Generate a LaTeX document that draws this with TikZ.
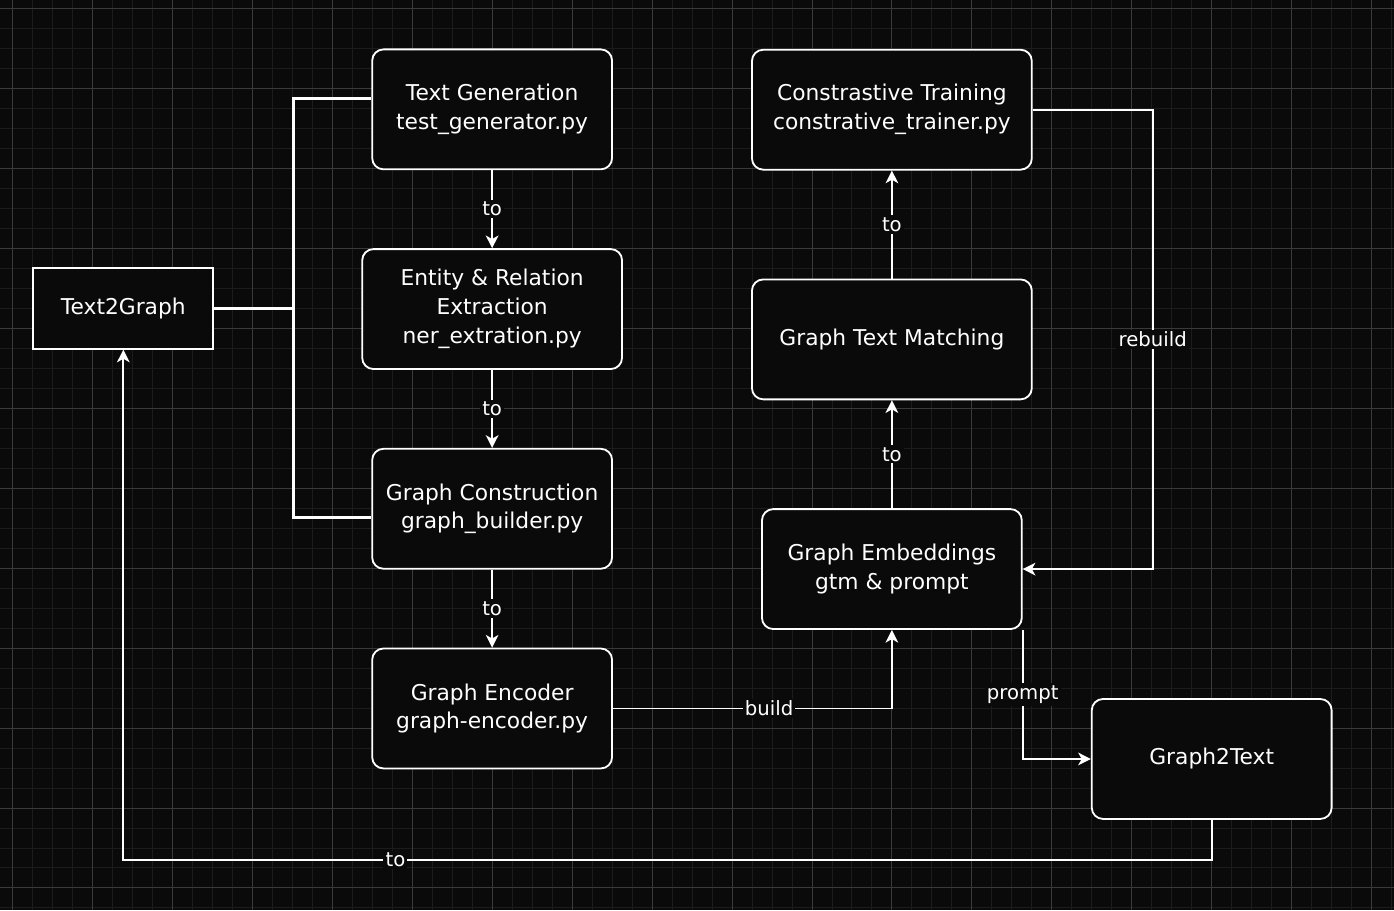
\documentclass[tikz,border=0pt]{standalone}
\usepackage{fontspec}
\setmainfont{DejaVu Sans}
\usepackage{xcolor}
\usetikzlibrary{shapes,arrows.meta,positioning,calc}

\definecolor{canvas}{RGB}{10,10,10}
\definecolor{gridminor}{RGB}{28,28,28}
\definecolor{gridmajor}{RGB}{58,58,58}

\begin{document}
\begin{tikzpicture}[
      block/.style={
        rectangle,
        draw=white,
        fill=canvas,
        text=white,
        line width=1.3pt,
        align=center,
        minimum width=6cm,
        minimum height=3cm,
        inner sep=2pt,
        rounded corners=8pt,
        font=\fontsize{15.5}{20.6}\selectfont
      },
      flatblock/.style={block,sharp corners,minimum width=4.5cm,minimum height=2.025cm},
      arrow/.style={-{Stealth[length=9pt,width=9pt,inset=2.5pt]},line width=1.3pt,draw=white},
      bus/.style={line width=2.2pt,draw=white},
      tag/.style={fill=canvas,text=white,inner sep=1.5pt,font=\fontsize{14}{16}\selectfont}
    ]
    % Canvas and grid
    \fill[canvas] (0,0) rectangle (34.85,-22.75);
    \begin{scope}[shift={(0.3,-0.2)}]
      \draw[gridminor,line width=0.6pt,step=0.5cm] (-0.3,-22.55) grid (34.55,0.2);
      \draw[gridmajor,line width=0.6pt,step=2cm] (-0.3,-22.55) grid (34.55,0.2);
    \end{scope}
    \useasboundingbox (0,0) rectangle (34.85,-22.75);

    % Text2Graph pipeline
    \node[flatblock] (t2g) at (3.075,-7.7) {Text2Graph};
    \node[block] (textgen) at (12.3,-2.725) {Text Generation\\test\_generator.py};
    \node[block,minimum width=6.5cm,below=1.95cm of textgen] (ner) {Entity \& Relation\\Extraction\\ner\_extration.py};
    \node[block,below=1.95cm of ner] (builder) {Graph Construction\\graph\_builder.py};
    \node[block,below=1.95cm of builder] (encoder) {Graph Encoder\\graph-encoder.py};

    % Graph2Text side
    \node[block,minimum width=6.5cm] (embed) at (22.3,-14.225) {Graph Embeddings\\gtm \& prompt};
    \node[block,minimum width=7cm,above=2.7cm of embed] (gtm) {Graph Text Matching};
    \node[block,minimum width=7cm,above=2.7cm of gtm] (trainer) {Constrastive Training\\constrative\_trainer.py};
    \node[block] (g2t) at (30.3,-18.975) {Graph2Text};

    % Bracket from Text2Graph
    \coordinate (hub) at ($(t2g.east)+(1.975,0)$);
    \draw[bus] ($(textgen.west)+(0,0.275)$) -| (hub) |- ($(builder.west)+(0,-0.225)$);
    \draw[bus] (t2g.east) -- (hub);

    \draw[arrow] (textgen) -- node[tag]{to} (ner);
    \draw[arrow] (ner) -- node[tag]{to} (builder);
    \draw[arrow] (builder) -- node[tag]{to} (encoder);
    \draw[arrow] (encoder.east) -| node[tag,pos=0.28]{build} (embed.south);
    \draw[arrow] (embed) -- node[tag]{to} (gtm);
    \draw[arrow] (gtm) -- node[tag]{to} (trainer);
    \draw[arrow] (trainer.east) -- ++(3,0) |- node[tag,pos=0.25]{rebuild} (embed.east);
    \draw[arrow] (embed.south east) |- node[tag,pos=0.25]{prompt} (g2t.west);
    \draw[arrow] (g2t.south) -- ++(0,-1) -| node[tag,pos=0.375]{to} (t2g.south);
  \end{tikzpicture}
\end{document}
